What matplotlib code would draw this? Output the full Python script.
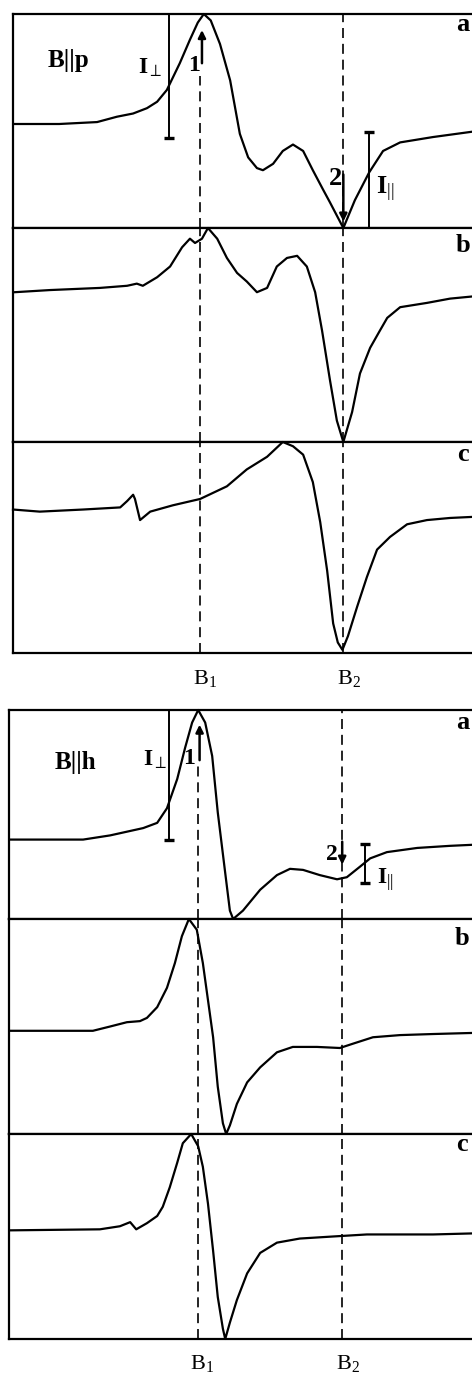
import matplotlib
matplotlib.use('Agg')
import matplotlib.pyplot as plt

plt.rcParams['font.family'] = ['Liberation Serif', 'DejaVu Serif']
plt.rcParams['mathtext.fontset'] = 'custom'
plt.rcParams['mathtext.rm'] = 'Liberation Serif'
plt.rcParams['mathtext.it'] = 'Liberation Serif:italic'
plt.rcParams['mathtext.bf'] = 'Liberation Serif:bold'

# resonance fields (arbitrary field units, 0..100 across the frame)
B1 = 40.5
B2 = 71.5

# B || p
p_a_field = [0.4, 10, 18.2, 22.5, 26.0, 29.0, 31.2, 33.3, 36.1, 38.3, 40.0, 41.3, 42.8, 44.8, 47.0, 49.1,
             50.9, 52.8, 54.1, 56.3, 58.4, 60.6, 62.8, 64.9, 67.1, 68.6, 71.5, 74.0, 77.1, 80.1, 83.8,
             90.9, 99.4]
p_a_signal = [0.486, 0.486, 0.495, 0.52, 0.535, 0.56, 0.59, 0.645, 0.77, 0.88, 0.96, 1.0, 0.97, 0.86, 0.69,
              0.44, 0.33, 0.28, 0.27, 0.30, 0.36, 0.39, 0.36, 0.27, 0.18, 0.12, 0.0, 0.13, 0.26, 0.36, 0.40,
              0.425, 0.45]

p_b_field = [0.4, 8.0, 18.8, 24.7, 26.8, 28.1, 31.2, 34.0, 36.6, 38.3, 39.4, 40.9, 42.2, 44.2, 46.3, 48.5,
             50.6, 52.8, 55.0, 57.1, 59.3, 61.5, 63.6, 65.4, 66.9, 68.6, 70.1, 71.5, 73.4, 75.1, 77.3, 79.4,
             81.0, 83.8, 89.6, 94.6, 99.4]
p_b_signal = [0.70, 0.71, 0.72, 0.73, 0.74, 0.73, 0.77, 0.82, 0.91, 0.95, 0.93, 0.95, 1.0, 0.95, 0.86, 0.79,
              0.75, 0.70, 0.72, 0.82, 0.86, 0.87, 0.82, 0.70, 0.52, 0.29, 0.10, 0.0, 0.14, 0.32, 0.44, 0.52,
              0.58, 0.63, 0.65, 0.67, 0.68]

p_c_field = [0, 5.8, 15.2, 23.2, 24.7, 26.0, 26.4, 27.5, 29.7, 34.6, 40.5, 46.3, 50.6, 55.0, 58.4, 60.6,
             62.8, 64.9, 66.5, 68.0, 69.3, 70.3, 71.3, 72.5, 74.5, 76.6, 78.8, 81.6, 85.3, 89.6, 94.6, 99.4]
p_c_signal = [0.68, 0.67, 0.68, 0.69, 0.72, 0.75, 0.73, 0.63, 0.67, 0.70, 0.73, 0.79, 0.87, 0.93, 1.0, 0.98,
              0.94, 0.81, 0.62, 0.39, 0.14, 0.05, 0.015, 0.08, 0.22, 0.36, 0.49, 0.55, 0.61, 0.63, 0.64, 0.645]

# B || h
h_a_field = [0.2, 15.9, 21.7, 28.8, 31.8, 33.9, 36.1, 37.8, 39.3, 40.6, 42.1, 43.6, 44.8, 46.4, 47.4, 48.1,
             50.2, 53.9, 57.5, 60.3, 63.1, 66.7, 70.4, 72.5, 75.3, 77.5, 81.1, 87.6, 94.6, 99.4]
h_a_signal = [0.38, 0.38, 0.40, 0.435, 0.46, 0.53, 0.67, 0.82, 0.94, 1.0, 0.94, 0.78, 0.51, 0.22, 0.04, 0.0,
              0.04, 0.14, 0.21, 0.24, 0.235, 0.21, 0.19, 0.20, 0.25, 0.29, 0.32, 0.34, 0.35, 0.355]

h_b_field = [0.2, 18.0, 21.7, 25.3, 28.1, 29.6, 31.8, 33.9, 35.6, 37.1, 38.6, 40.3, 41.6, 43.1, 43.8, 44.8,
             45.9, 46.6, 47.4, 48.9, 51.1, 53.9, 57.5, 60.9, 66.1, 71.0, 73.8, 78.1, 83.9, 91.0, 99.4]
h_b_signal = [0.48, 0.48, 0.50, 0.52, 0.525, 0.54, 0.59, 0.68, 0.795, 0.92, 1.0, 0.95, 0.795, 0.56, 0.45, 0.22,
              0.05, 0.0, 0.04, 0.14, 0.24, 0.31, 0.38, 0.405, 0.405, 0.40, 0.42, 0.45, 0.46, 0.465, 0.47]

h_c_field = [0.2, 19.5, 23.8, 26.0, 27.3, 29.6, 31.8, 33.0, 34.5, 36.1, 37.3, 39.1, 40.6, 41.6, 42.7, 43.8,
             44.8, 45.9, 46.4, 47.4, 48.9, 51.1, 53.9, 57.5, 62.4, 69.5, 76.8, 91.0, 99.4]
h_c_signal = [0.53, 0.535, 0.55, 0.57, 0.535, 0.565, 0.60, 0.645, 0.74, 0.86, 0.955, 1.0, 0.94, 0.84, 0.66,
              0.43, 0.205, 0.05, 0.0, 0.08, 0.19, 0.32, 0.42, 0.47, 0.49, 0.50, 0.51, 0.51, 0.515]

W, H = 472, 1377
DASH = (0, (6, 3.5))


def px_axes(fig, left, top, right, bottom):
    ax = fig.add_axes([left / W, 1 - bottom / H, (right - left) / W, (bottom - top) / H])
    ax.set_xlim(0, 100)
    ax.set_ylim(0, 1)
    ax.set_xticks([])
    ax.set_yticks([])
    ax.spines['right'].set_visible(False)
    for s in ('left', 'top', 'bottom'):
        ax.spines[s].set_linewidth(1.6)
    return ax


def arrow(ax, x, y_tail, y_head):
    ax.annotate('', xy=(x, y_head), xytext=(x, y_tail),
                arrowprops=dict(arrowstyle='-|>', color='k', lw=1.8, mutation_scale=11,
                                shrinkA=0, shrinkB=0))


def ibar(ax, x, y0, y1, caps):
    ax.plot([x, x], [y0, y1], color='k', lw=1.4)
    for y in caps:
        ax.plot([x], [y], marker='_', ms=7, mew=2.4, color='k', clip_on=False)


def draw_panel(fig, left, rows, traces, name, ann):
    axes = []
    for (top, bottom), (fx, sy), letter in zip(rows, traces, 'abc'):
        ax = px_axes(fig, left, top, 475, bottom)
        ax.plot(fx, sy, color='k', lw=1.6, clip_on=False)
        ax.text(97.3, ann['letter_y'][letter], letter, fontsize=19, fontweight='bold',
                ha='center', va='center')
        axes.append(ax)

    ax_a, ax_b, ax_c = axes
    # dashed field markers
    ax_a.axvline(B1, ymin=0, ymax=ann['b1_top'], color='k', lw=1.2, ls=DASH)
    ax_a.axvline(B2, color='k', lw=1.2, ls=DASH)
    for ax in (ax_b, ax_c):
        ax.axvline(B1, color='k', lw=1.2, ls=DASH)
        ax.axvline(B2, color='k', lw=1.2, ls=DASH)

    ax_a.text(ann['name_x'], ann['name_y'], name, fontsize=18, fontweight='bold',
              ha='center', va='center')

    # I_perp bar and arrow 1
    ibar(ax_a, ann['iperp_x'], ann['iperp_bot'], 1.0, [ann['iperp_bot']])
    ax_a.text(ann['iperp_lx'], ann['iperp_ly'], r'$\mathbf{I}_{\perp}$', fontsize=17,
              ha='center', va='center')
    arrow(ax_a, B1 + 0.4, ann['a1_tail'], ann['a1_head'])
    ax_a.text(ann['one_x'], ann['one_y'], '1', fontsize=17, fontweight='bold',
              ha='center', va='center')

    # I_par bar and arrow 2
    ibar(ax_a, ann['ipar_x'], ann['ipar_bot'], ann['ipar_top'], ann['ipar_caps'])
    ax_a.text(ann['ipar_lx'], ann['ipar_ly'], r'$\mathbf{I}_{||}$', fontsize=ann['big'],
              ha='left', va='center')
    arrow(ax_a, B2, ann['a2_tail'], ann['a2_head'])
    ax_a.text(ann['two_x'], ann['two_y'], '2', fontsize=ann['big'], fontweight='bold',
              ha='center', va='center')

    # field labels below the frame
    ax_c.text(B1 + 1.0, ann['blabel_y'], r'B$_1$', fontsize=16, ha='center', va='center')
    ax_c.text(B2 + 1.2, ann['blabel_y'], r'B$_2$', fontsize=16, ha='center', va='center')


def main():
    fig = plt.figure(figsize=(W / 100, H / 100), dpi=100)

    ann_p = dict(letter_y={'a': 0.95, 'b': 0.92, 'c': 0.94}, b1_top=0.71,
                 name_x=12.1, name_y=0.785,
                 iperp_x=33.8, iperp_bot=0.42, iperp_lx=29.7, iperp_ly=0.75,
                 a1_tail=0.77, a1_head=0.925, one_x=39.2, one_y=0.76,
                 ipar_x=77.1, ipar_bot=0.0, ipar_top=0.45, ipar_caps=[0.45],
                 ipar_lx=78.6, ipar_ly=0.18, big=19,
                 a2_tail=0.25, a2_head=0.03, two_x=69.7, two_y=0.23,
                 blabel_y=-0.12)
    draw_panel(fig, 13, [(14, 228), (228, 442), (442, 653)],
               [(p_a_field, p_a_signal), (p_b_field, p_b_signal), (p_c_field, p_c_signal)],
               'B||p', ann_p)

    ann_h = dict(letter_y={'a': 0.94, 'b': 0.91, 'c': 0.95}, b1_top=0.74,
                 name_x=14.2, name_y=0.75,
                 iperp_x=34.3, iperp_bot=0.38, iperp_lx=31.3, iperp_ly=0.76,
                 a1_tail=0.76, a1_head=0.93, one_x=38.7, one_y=0.77,
                 ipar_x=76.4, ipar_bot=0.17, ipar_top=0.36, ipar_caps=[0.17, 0.36],
                 ipar_lx=79.0, ipar_ly=0.19, big=17,
                 a2_tail=0.37, a2_head=0.26, two_x=69.2, two_y=0.31,
                 blabel_y=-0.12)
    draw_panel(fig, 9, [(710, 919), (919, 1134), (1134, 1339)],
               [(h_a_field, h_a_signal), (h_b_field, h_b_signal), (h_c_field, h_c_signal)],
               'B||h', ann_h)

    fig.savefig('out.png', dpi=100, facecolor='white')
    plt.close(fig)


if __name__ == '__main__':
    main()
